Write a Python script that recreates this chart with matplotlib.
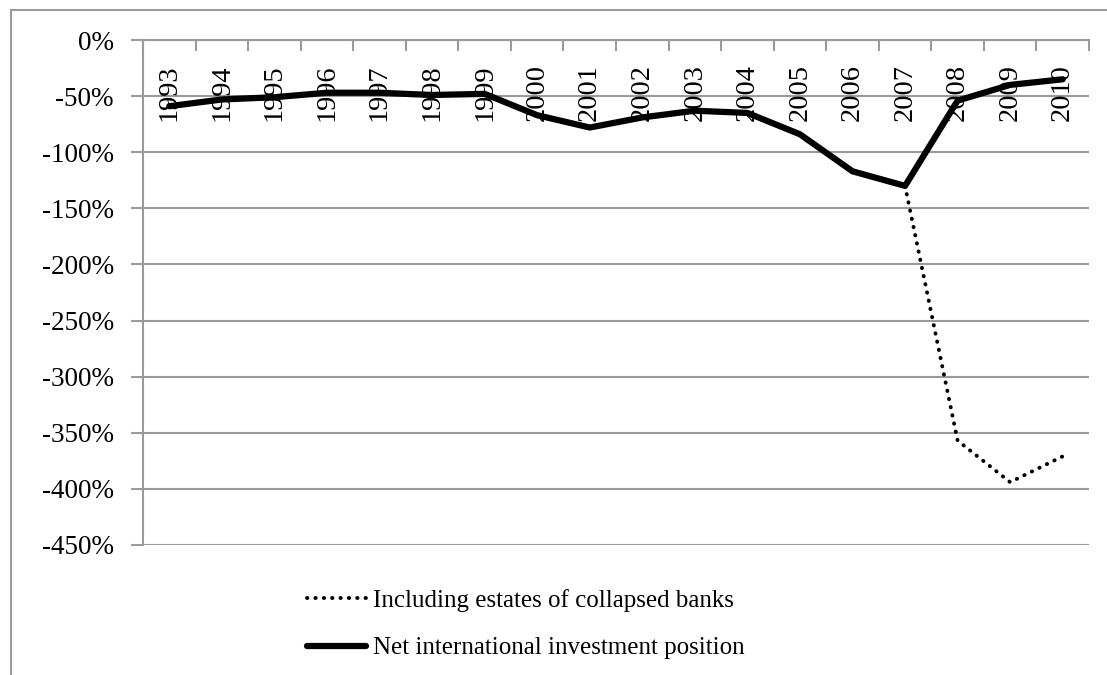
import matplotlib
matplotlib.use("Agg")
import matplotlib.pyplot as plt
from matplotlib.lines import Line2D
from matplotlib.ticker import FuncFormatter, MultipleLocator, FixedLocator
import matplotlib.transforms as mtransforms
import numpy as np

years = ["1993", "1994", "1995", "1996", "1997", "1998", "1999", "2000", "2001",
         "2002", "2003", "2004", "2005", "2006", "2007", "2008", "2009", "2010"]
niip = [-59, -53, -51, -47, -47, -49, -48, -67, -78, -69, -63, -65, -84, -117,
        -130, -54, -40, -35]
incl_estates = [None] * 14 + [-130, -357, -394, -371]

plt.rcParams['font.family'] = ['Liberation Serif', 'DejaVu Serif']

W, H = 1107, 675
fig = plt.figure(figsize=(W / 100, H / 100), dpi=100)
fig.patch.set_facecolor('white')

# outer chart border (left and top)
gray = '#9a9a9a'
fig.add_artist(Line2D([11 / W, 11 / W], [0, 1 - 10 / H], transform=fig.transFigure,
                      color=gray, lw=1.5))
fig.add_artist(Line2D([11 / W, 1], [1 - 10 / H, 1 - 10 / H], transform=fig.transFigure,
                      color=gray, lw=1.5))

left, right, top, bottom = 143, 1089, 40, 545
ax = fig.add_axes([left / W, 1 - bottom / H, (right - left) / W, (bottom - top) / H])

x = np.arange(len(years))
y_inc = np.array([np.nan if v is None else v for v in incl_estates], dtype=float)

ax.plot(x, y_inc, color='black', lw=2.8, linestyle=(0, (0.1, 2.05)),
        dash_capstyle='round', label='Including estates of collapsed banks', zorder=3)
ax.plot(x, niip, color='black', lw=4.5, solid_joinstyle='round', solid_capstyle='round',
        label='Net international investment position', zorder=4)

ax.set_xlim(-0.5, len(years) - 0.5)
ax.set_ylim(-450, 0)

ax.yaxis.set_major_locator(MultipleLocator(50))
ax.yaxis.set_major_formatter(FuncFormatter(lambda v, p: f"{int(round(v))}%"))
ax.tick_params(axis='y', direction='out', length=9, width=1.5, color=gray,
               labelsize=19.5, pad=12)
ax.grid(axis='y', color=gray, lw=1.5)
ax.set_axisbelow(True)

# category boundary ticks on the top (zero) axis
ax.xaxis.tick_top()
ax.xaxis.set_major_locator(FixedLocator(np.arange(-0.5, len(years), 1.0)))
ax.xaxis.set_major_formatter(FuncFormatter(lambda v, p: ""))
ax.tick_params(axis='x', direction='in', length=8, width=1.5, color=gray)

for sp in ['right', 'bottom']:
    ax.spines[sp].set_visible(False)
for sp in ['left', 'top']:
    ax.spines[sp].set_color(gray)
    ax.spines[sp].set_linewidth(1.5)

# year labels next to the axis, rotated
off = mtransforms.offset_copy(ax.transData, fig=fig, x=0, y=-24, units='dots')
for xi, lab in zip(x, years):
    ax.text(xi, 0, lab, transform=off, rotation=90, ha='center', va='top',
            fontsize=20.5, zorder=2)

leg = ax.legend(loc='upper left', bbox_to_anchor=(307 / W, 1 - 589 / H),
                bbox_transform=fig.transFigure, frameon=False, fontsize=18,
                handlelength=2.35, handletextpad=0.3, labelspacing=1.0,
                borderpad=0, borderaxespad=0)

fig.savefig('out.png', dpi=100, facecolor='white')
